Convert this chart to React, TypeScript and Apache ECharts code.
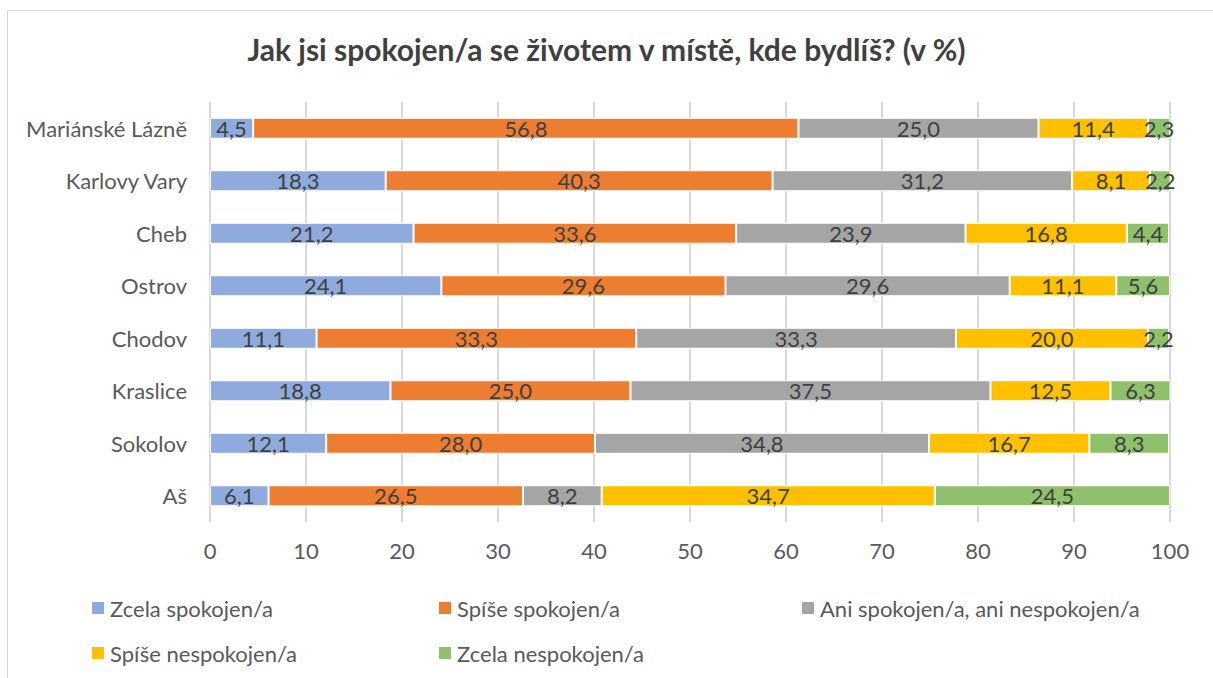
import React, { useEffect, useRef } from "react";
import * as echarts from "echarts";

const categories = ["Aš", "Sokolov", "Kraslice", "Chodov", "Ostrov", "Cheb", "Karlovy Vary", "Mariánské Lázně"];
const seriesNames = [
  "Zcela spokojen/a",
  "Spíše spokojen/a",
  "Ani spokojen/a, ani nespokojen/a",
  "Spíše nespokojen/a",
  "Zcela nespokojen/a",
];
const zcelaSpokojen = [6.1, 12.1, 18.8, 11.1, 24.1, 21.2, 18.3, 4.5];
const spiseSpokojen = [26.5, 28.0, 25.0, 33.3, 29.6, 33.6, 40.3, 56.8];
const aniAni = [8.2, 34.8, 37.5, 33.3, 29.6, 23.9, 31.2, 25.0];
const spiseNespokojen = [34.7, 16.7, 12.5, 20.0, 11.1, 16.8, 8.1, 11.4];
const zcelaNespokojen = [24.5, 8.3, 6.3, 2.2, 5.6, 4.4, 2.2, 2.3];
const xTicks = { min: 0, max: 100, interval: 10 };

const colors = ["#8FAADC", "#ED7D31", "#A5A5A5", "#FFC000", "#8FC16C"];
const FONT = "Lato, 'Open Sans', sans-serif";

export default function App() {
  const ref = useRef<HTMLDivElement>(null);
  useEffect(() => {
    if (!ref.current) return;
    const chart = echarts.init(ref.current, null, { renderer: "svg" });
    const values = [zcelaSpokojen, spiseSpokojen, aniAni, spiseNespokojen, zcelaNespokojen];
    const legendPos = [
      { left: 90, top: 597 },
      { left: 437, top: 597 },
      { left: 800, top: 597 },
      { left: 90, top: 642 },
      { left: 437, top: 642 },
    ];
    chart.setOption({
      animation: false,
      textStyle: { fontFamily: FONT },
      title: {
        text: "Jak jsi spokojen/a se životem v místě, kde bydlíš? (v %)",
        left: "center",
        top: 34,
        padding: 0,
        textStyle: { fontFamily: FONT, fontSize: 30, fontWeight: "bold", color: "#404040" },
      },
      graphic: [
        {
          type: "rect",
          shape: { x: 7.5, y: 10.5, width: 1300, height: 800 },
          style: { fill: "none", stroke: "#D9D9D9", lineWidth: 1 },
          silent: true,
          z: -10,
        },
      ],
      legend: seriesNames.map((name, i) => ({
        data: [name],
        left: legendPos[i].left,
        top: legendPos[i].top,
        padding: 0,
        itemWidth: 14,
        itemHeight: 14,
        itemGap: 5,
        icon: "rect",
        textStyle: { fontFamily: FONT, fontSize: 22, color: "#595959", padding: [0, 0, 0, 0] },
      })),
      grid: { left: 210, right: 43, top: 102, bottom: 156, containLabel: false },
      xAxis: {
        type: "value",
        min: xTicks.min,
        max: xTicks.max,
        interval: xTicks.interval,
        axisLine: { show: false },
        axisTick: { show: false },
        axisLabel: { fontFamily: FONT, fontSize: 22, color: "#595959", margin: 17 },
        splitLine: { lineStyle: { color: "#D9D9D9", width: 2 } },
      },
      yAxis: {
        type: "category",
        data: categories,
        axisLine: { show: false },
        axisTick: { show: false },
        axisLabel: { fontFamily: FONT, fontSize: 22, color: "#595959", margin: 23 },
      },
      series: seriesNames.map((name, i) => ({
        name,
        type: "bar",
        stack: "total",
        data: values[i],
        barWidth: "40%",
        itemStyle: { color: colors[i], borderColor: "#FFFFFF", borderWidth: 1 },
        label: {
          show: true,
          position: "inside",
          fontFamily: FONT,
          fontSize: 22,
          color: "#404040",
          formatter: (p: any) => Number(p.value).toFixed(1).replace(".", ","),
        },
      })),
    });
    return () => chart.dispose();
  }, []);
  return (
    <div
      ref={ref}
      style={{ position: "absolute", left: 0, top: 0, width: 1213, height: 678, background: "#fff" }}
    />
  );
}
